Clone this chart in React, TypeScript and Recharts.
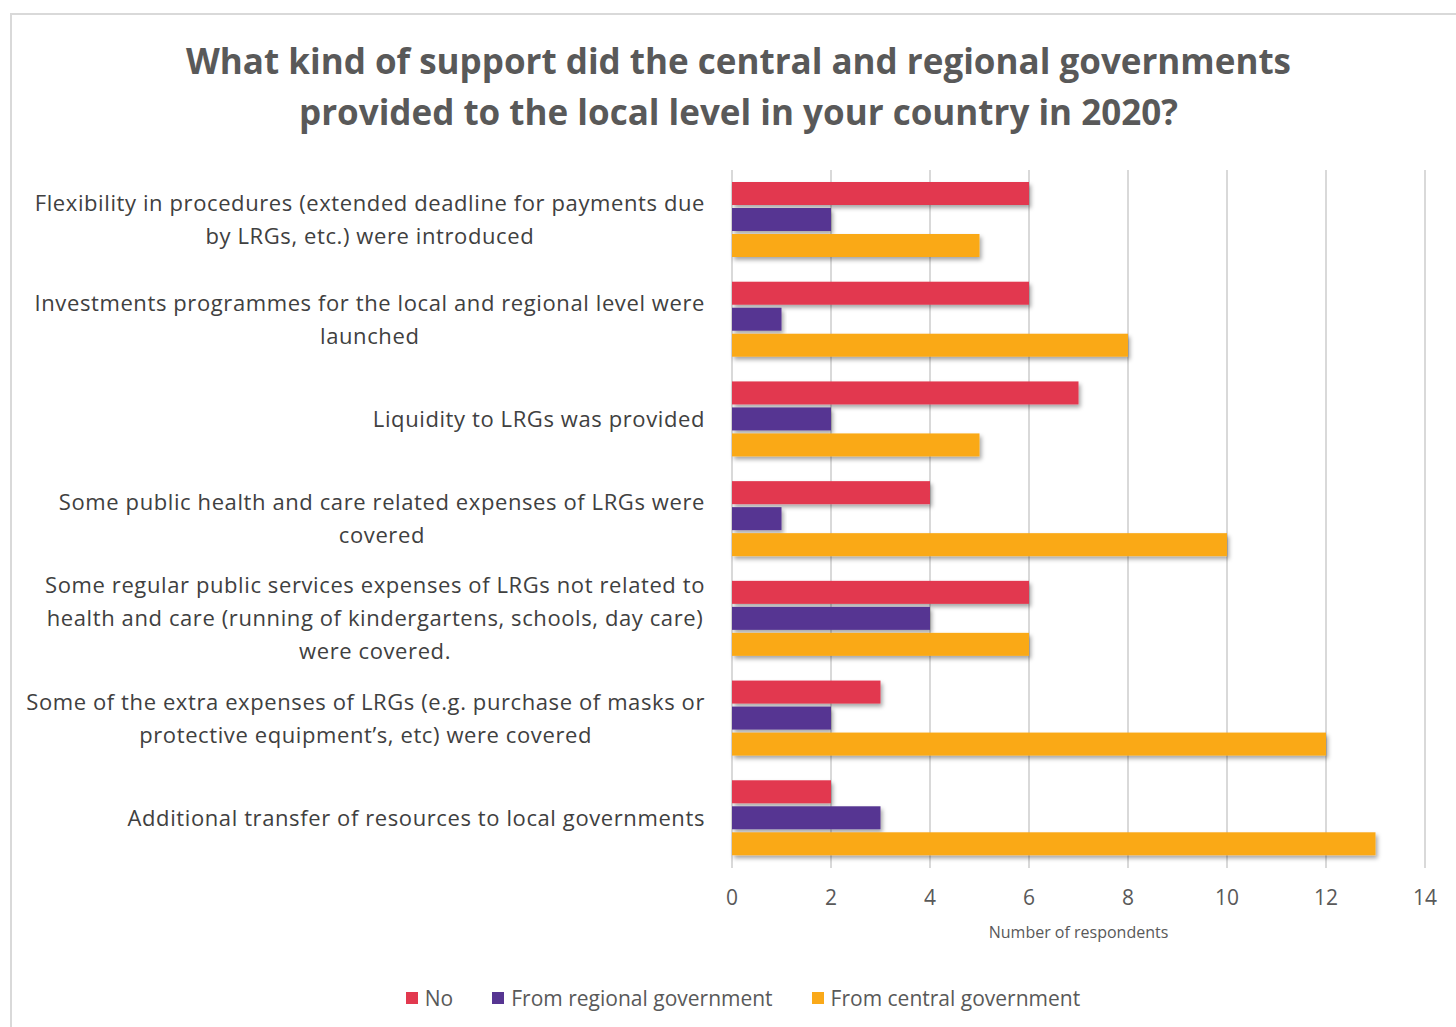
import { Bar, BarChart, CartesianGrid, XAxis, YAxis } from "recharts";

const CATEGORIES = [
  "Flexibility in procedures (extended deadline for payments due\nby LRGs, etc.) were introduced",
  "Investments programmes for the local and regional level were\nlaunched",
  "Liquidity to LRGs was provided",
  "Some public health and care related expenses of LRGs were\ncovered",
  "Some regular public services expenses of LRGs not related to\nhealth and care (running of kindergartens, schools, day care)\nwere covered.",
  "Some of the extra expenses of LRGs (e.g. purchase of masks or\nprotective equipment\u2019s, etc) were covered",
  "Additional transfer of resources to local governments",
];
const NO = [6, 6, 7, 4, 6, 3, 2];
const REGIONAL = [2, 1, 2, 1, 4, 2, 3];
const CENTRAL = [5, 8, 5, 10, 6, 12, 13];
const X_TICKS = [0, 2, 4, 6, 8, 10, 12, 14];

const SERIES = [
  { key: "no", name: "No", color: "#E2394F" },
  { key: "regional", name: "From regional government", color: "#563592" },
  { key: "central", name: "From central government", color: "#FAA919" },
];

const data = CATEGORIES.map((c, i) => ({
  category: c,
  no: NO[i],
  regional: REGIONAL[i],
  central: CENTRAL[i],
}));

const FONT = "'Open Sans', sans-serif";
const LABEL_SIZE = 22;
const LABEL_SPACING = 0.6;

// measure text so that wrapped label lines centre on the widest line
let ctx: CanvasRenderingContext2D | null = null;
function textWidth(s: string) {
  if (!ctx) ctx = document.createElement("canvas").getContext("2d");
  if (!ctx) return s.length * LABEL_SIZE * 0.5;
  ctx.font = `${LABEL_SIZE}px 'Open Sans'`;
  return ctx.measureText(s).width + s.length * LABEL_SPACING;
}

function CategoryTick({ x, y, payload }: any) {
  const lines = String(payload.value).split("\n");
  const lh = 33;
  const start = y - ((lines.length - 1) * lh) / 2;
  const maxW = Math.max(...lines.map(textWidth));
  const cx = x - maxW / 2;
  return (
    <text
      x={cx}
      y={start}
      textAnchor="middle"
      fill="#404040"
      fontSize={LABEL_SIZE}
      fontFamily={FONT}
      letterSpacing={LABEL_SPACING}
    >
      {lines.map((l, i) => (
        <tspan key={i} x={cx} y={start + i * lh} dy="0.35em">
          {l}
        </tspan>
      ))}
    </text>
  );
}

function ShadowBar(props: any) {
  const { x, y, width, height, fill } = props;
  if (!width || width <= 0) return null;
  return <rect x={x} y={y} width={width} height={height} fill={fill} filter="url(#barShadow)" />;
}

export default function App() {
  return (
    <div
      style={{
        position: "absolute",
        left: 0,
        top: 0,
        width: 1456,
        height: 1027,
        overflow: "hidden",
        background: "#fff",
        fontFamily: FONT,
      }}
    >
      <div
        style={{
          position: "absolute",
          left: 10,
          top: 13,
          width: 1500,
          height: 1100,
          border: "2px solid #d9d9d9",
        }}
      />
      <div
        style={{
          position: "absolute",
          left: 0,
          top: 35,
          width: 1477,
          textAlign: "center",
          fontSize: 35,
          fontWeight: 700,
          lineHeight: "51px",
          color: "#595959",
        }}
      >
        What kind of support did the central and regional governments
        <br />
        provided to the local level in your country in 2020?
      </div>
      <div style={{ position: "absolute", left: 0, top: 0 }}>
        <BarChart
          width={1456}
          height={1027}
          layout="vertical"
          data={data}
          margin={{ top: 170, right: 31, bottom: 69, left: 0 }}
          barSize={23}
          barGap={3}
        >
          <defs>
            <filter id="barShadow" x="-5%" y="-30%" width="115%" height="180%">
              <feDropShadow dx="2" dy="3" stdDeviation="2" floodColor="#000" floodOpacity="0.35" />
            </filter>
          </defs>
          <CartesianGrid horizontal={false} stroke="#d9d9d9" strokeWidth={2} />
          <XAxis
            type="number"
            domain={[0, 14]}
            ticks={X_TICKS}
            axisLine={false}
            tickLine={false}
            height={90}
            tickMargin={16}
            tick={{ fill: "#595959", fontSize: 21, fontFamily: FONT }}
            label={{
              value: "Number of respondents",
              position: "insideBottom",
              offset: 20,
              fill: "#595959",
              fontSize: 16,
              fontFamily: FONT,
            }}
          />
          <YAxis
            type="category"
            dataKey="category"
            width={732}
            axisLine={false}
            tickLine={false}
            tickSize={0}
            tickMargin={27}
            interval={0}
            tick={<CategoryTick />}
          />
          {SERIES.map((s) => (
            <Bar
              key={s.key}
              dataKey={s.key}
              name={s.name}
              fill={s.color}
              isAnimationActive={false}
              shape={<ShadowBar />}
            />
          ))}
        </BarChart>
      </div>
      <div
        style={{
          position: "absolute",
          left: 0,
          top: 984,
          width: 1486,
          display: "flex",
          justifyContent: "center",
          gap: 39,
          fontSize: 21,
          color: "#595959",
        }}
      >
        {SERIES.map((s) => (
          <div key={s.key} style={{ display: "flex", alignItems: "center" }}>
            <span style={{ width: 12, height: 12, background: s.color, marginRight: 7, display: "inline-block" }} />
            <span>{s.name}</span>
          </div>
        ))}
      </div>
    </div>
  );
}
